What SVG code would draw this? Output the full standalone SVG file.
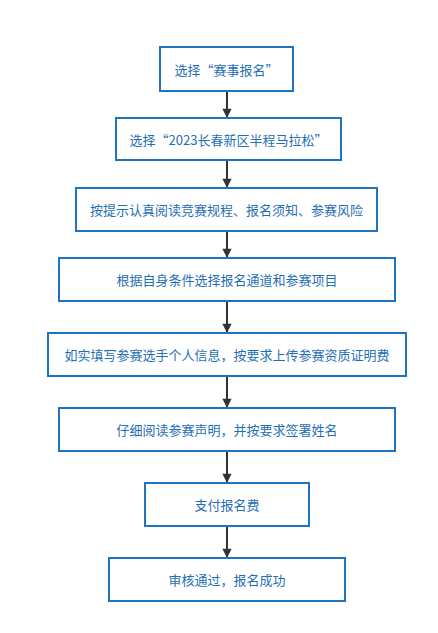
<svg xmlns="http://www.w3.org/2000/svg" width="438" height="633" viewBox="0 0 438 633">
<style>
.box{fill:#fff;stroke:#1f74bf;stroke-width:2}
.t{font-family:"Noto Sans CJK SC","Liberation Sans",sans-serif;font-size:13px;fill:#1f6fb6;text-anchor:middle;dominant-baseline:central}
.c{stroke:#333;stroke-width:2;fill:none;marker-end:url(#ah)}
</style>
<defs>
<marker id="ah" viewBox="0 0 10 10" refX="9" refY="5" markerWidth="5" markerHeight="4.6" orient="auto" markerUnits="strokeWidth">
<path d="M0,0 L10,5 L0,10 z" fill="#333"/>
</marker>
</defs>
<rect width="438" height="633" fill="#fff"/>
<g id="connectors">
<line class="c" x1="227" y1="91" x2="227" y2="117"/>
<line class="c" x1="227" y1="160" x2="227" y2="187"/>
<line class="c" x1="227" y1="231" x2="227" y2="257"/>
<line class="c" x1="227" y1="301" x2="227" y2="332"/>
<line class="c" x1="227" y1="376" x2="227" y2="407"/>
<line class="c" x1="227" y1="451" x2="227" y2="482"/>
<line class="c" x1="227" y1="526" x2="227" y2="557"/>
</g>
<g id="n1"><rect class="box" x="160" y="47" width="133" height="44"/><text class="t" x="226.5" y="69">选择“赛事报名”</text></g>
<g id="n2"><rect class="box" x="116" y="118" width="225" height="42"/><text class="t" x="228.5" y="139">选择“2023长春新区半程马拉松”</text></g>
<g id="n3"><rect class="box" x="76" y="188" width="301" height="43"/><text class="t" x="226.5" y="209.5">按提示认真阅读竞赛规程、报名须知、参赛风险</text></g>
<g id="n4"><rect class="box" x="59" y="258" width="336" height="43"/><text class="t" x="227" y="279.5">根据自身条件选择报名通道和参赛项目</text></g>
<g id="n5"><rect class="box" x="48" y="333" width="358" height="43"/><text class="t" x="227" y="354.5">如实填写参赛选手个人信息，按要求上传参赛资质证明费</text></g>
<g id="n6"><rect class="box" x="59" y="408" width="336" height="43"/><text class="t" x="227" y="429.5">仔细阅读参赛声明，并按要求签署姓名</text></g>
<g id="n7"><rect class="box" x="145" y="483" width="164" height="43"/><text class="t" x="227" y="504.5">支付报名费</text></g>
<g id="n8"><rect class="box" x="109" y="558" width="236" height="43"/><text class="t" x="227" y="579.5">审核通过，报名成功</text></g>
</svg>
